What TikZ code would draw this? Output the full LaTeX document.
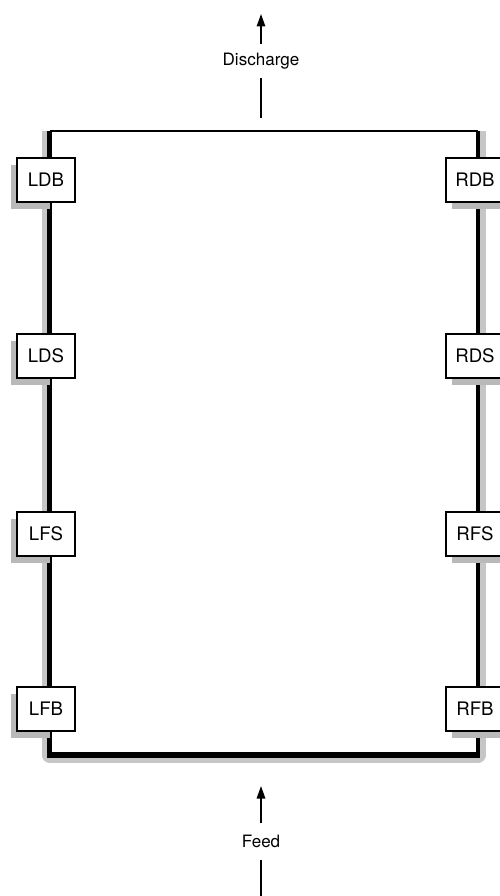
\documentclass[tikz,border=0pt]{standalone}
\usepackage{fontspec}
\setmainfont{TeX Gyre Heros}
\usetikzlibrary{arrows.meta}
\begin{document}
\begin{tikzpicture}[x=0.02cm,y=-0.02cm,
  tag/.style={draw=black, line width=0.9pt, fill=white, minimum width=1.16cm,
    minimum height=0.87cm, inner sep=0pt, font=\fontsize{10.6}{12}\selectfont},
  tagshade/.style={fill=gray!55},
  flowlabel/.style={inner sep=0pt, font=\fontsize{9.7}{11}\selectfont},
  flow/.style={line width=0.85pt},
  head/.style={-{Triangle[length=0.25cm,width=0.17cm]}},
  halo/.style={line width=0.3cm, gray!45},
]
\useasboundingbox (0,0) rectangle (500,896);
\clip (0,0) rectangle (500,896);

% vessel outline corners
\coordinate (tl) at (49.5,131);
\coordinate (tr) at (478,131);
\coordinate (bl) at (49.5,755);
\coordinate (br) at (478,755);

% soft shadow round the sides and base
\draw[halo, line join=round] (tl) -- (bl) -- (br) -- (tr);
\fill[white] (51.5,132) rectangle (476,752);

% vessel walls
\draw[line width=1.1pt] (tl) -- (tr);
\draw[line width=2.3pt] (tl) -- (bl);
\draw[line width=2.3pt] (tr) -- (br);
\draw[line width=3.6pt] ([xshift=-1.2pt]bl) -- ([xshift=1.2pt]br);

% shading behind the probe tags
\foreach \y in {180,356,534,709}{
  \fill[tagshade] (11,\y-15) rectangle (50,\y+29);
  \fill[tagshade] (452,\y-15) rectangle (510,\y+29);
}

% probe tags
\node[tag] (ldb) at (46,180) {LDB};
\node[tag] (lds) at (46,356) {LDS};
\node[tag] (lfs) at (46,534) {LFS};
\node[tag] (lfb) at (46,709) {LFB};
\node[tag] (rdb) at (475,180) {RDB};
\node[tag] (rds) at (475,356) {RDS};
\node[tag] (rfs) at (475,534) {RFS};
\node[tag] (rfb) at (475,709) {RFB};

% discharge stream
\node[flowlabel] (dis) at (261,61) {Discharge};
\coordinate (distip) at (261,14);
\coordinate (disbase) at (261,118);
\draw[flow, head, shorten <=0.18cm] (dis.north) -- (distip);
\draw[flow, shorten <=0.18cm] (dis.south) -- (disbase);

% feed stream
\node[flowlabel] (feed) at (261,841) {Feed};
\coordinate (feedtip) at (261,786);
\coordinate (feedbase) at (261,896);
\draw[flow, head, shorten <=0.22cm] (feed.north) -- (feedtip);
\draw[flow, shorten <=0.24cm] (feed.south) -- (feedbase);
\end{tikzpicture}
\end{document}
